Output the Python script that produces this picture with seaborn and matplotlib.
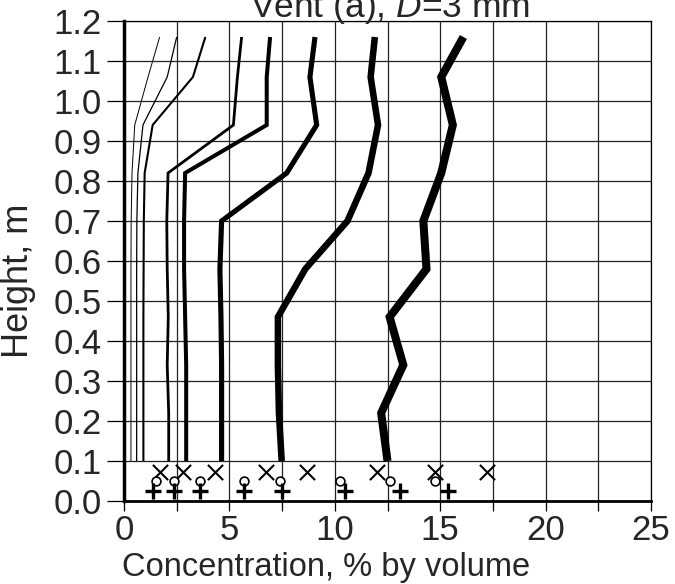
import numpy as np
import pandas as pd
import matplotlib
matplotlib.use("Agg")
import matplotlib.pyplot as plt
import seaborn as sns

# ---- data ----
heights = [0.10, 0.22, 0.34, 0.46, 0.58, 0.70, 0.82, 0.94, 1.06, 1.16]
c1 = [0.33, 0.33, 0.33, 0.33, 0.33, 0.34, 0.38, 0.51, 1.14, 1.69]
c2 = [0.60, 0.60, 0.60, 0.60, 0.60, 0.61, 0.66, 0.90, 2.05, 2.50]
c3 = [0.92, 0.92, 0.92, 0.92, 0.93, 0.94, 0.98, 1.36, 3.27, 3.86]
c4 = [2.12, 2.12, 2.05, 2.10, 2.05, 2.03, 2.09, 5.19, 5.38, 5.58]
c5 = [2.95, 2.95, 2.95, 2.90, 2.85, 2.85, 2.90, 6.77, 6.77, 6.93]
c6 = [4.63, 4.63, 4.63, 4.60, 4.55, 4.63, 7.72, 9.14, 8.82, 9.06]
c7 = [7.48, 7.35, 7.30, 7.30, 8.60, 10.60, 11.60, 12.05, 11.70, 11.90]
c8 = [12.50, 12.20, 13.25, 12.60, 14.35, 14.20, 15.05, 15.60, 15.05, 16.10]
line_widths = [0.7, 0.9, 1.5, 2.0, 2.9, 3.7, 4.7, 5.8]

x_marks_c = [1.71, 2.81, 4.32, 6.72, 8.67, 11.99, 14.75, 17.20]
x_marks_h = [0.073] * 8
o_marks_c = [1.52, 2.37, 3.60, 5.69, 7.42, 10.25, 12.62, 14.75]
o_marks_h = [0.051] * 8
p_marks_c = [1.39, 2.37, 3.60, 5.69, 7.48, 10.48, 13.10, 15.39]
p_marks_h = [0.025] * 8

x_ticks = [0, 2.5, 5, 7.5, 10, 12.5, 15, 17.5, 20, 22.5, 25]
x_tick_labels = ["0", "", "5", "", "10", "", "15", "", "20", "", "25"]
y_ticks = [0.0, 0.1, 0.2, 0.3, 0.4, 0.5, 0.6, 0.7, 0.8, 0.9, 1.0, 1.1, 1.2]
y_tick_labels = ["0.0", "0.1", "0.2", "0.3", "0.4", "0.5", "0.6", "0.7", "0.8", "0.9", "1.0", "1.1", "1.2"]

title = "Vent (a), $\\it{D}$=3 mm"
x_label = "Concentration, % by volume"
y_label = "Height, m"

sns.set_theme(style="white")
plt.rcParams["font.family"] = ["Liberation Sans", "DejaVu Sans"]
plt.rcParams["mathtext.fontset"] = "custom"
plt.rcParams["mathtext.it"] = "Liberation Sans:italic"
plt.rcParams["mathtext.rm"] = "Liberation Sans"

fig = plt.figure(figsize=(6.75, 5.84), dpi=100)
ax = fig.add_axes([124 / 675, 1 - 501 / 584, (651 - 124) / 675, (501 - 21) / 584])

series = [c1, c2, c3, c4, c5, c6, c7, c8]
for i, (cs, lw) in enumerate(zip(series, line_widths)):
    df = pd.DataFrame({"conc": cs, "h": heights})
    sns.lineplot(data=df, x="conc", y="h", sort=False, estimator=None,
                 color="black", linewidth=lw, ax=ax, solid_joinstyle="miter",
                 solid_capstyle="butt")

sns.scatterplot(x=x_marks_c, y=x_marks_h, marker="x", s=120, color="black",
                linewidth=1.5, ax=ax, zorder=5)
sns.scatterplot(x=o_marks_c, y=o_marks_h, marker="o", s=40, facecolor="white",
                edgecolor="black", linewidth=1.2, ax=ax, zorder=5)
sns.scatterplot(x=p_marks_c, y=p_marks_h, marker="+", s=130, color="black",
                linewidth=2.4, ax=ax, zorder=5)

ax.set_xlim(0, 25)
ax.set_ylim(0, 1.2)
ax.set_xticks(x_ticks)
ax.set_xticklabels(x_tick_labels)
ax.set_yticks(y_ticks)
ax.set_yticklabels(y_tick_labels)
ax.grid(True, color="#222222", linewidth=0.9)
ax.set_axisbelow(True)
ax.tick_params(axis="both", direction="out", width=0.9, color="black",
               labelsize=25, left=True, bottom=True)
ax.tick_params(axis="y", length=12, pad=4)
ax.tick_params(axis="x", length=7, pad=2)
for s in ax.spines.values():
    s.set_color("black")
    s.set_linewidth(0.9)
ax.spines["left"].set_linewidth(2.5)
ax.spines["bottom"].set_linewidth(2.0)

ax.set_xlabel(x_label, fontsize=23.5)
ax.set_ylabel(y_label, fontsize=26)
ax.xaxis.set_label_coords((326 - 124) / (651 - 124), -0.107)
ax.yaxis.set_label_coords((36 - 124) / (651 - 124), 0.458)

fig.text(390 / 675, 1 - 17 / 584, title, ha="center", va="baseline", fontsize=25.5)

fig.savefig("out.png", dpi=100)
